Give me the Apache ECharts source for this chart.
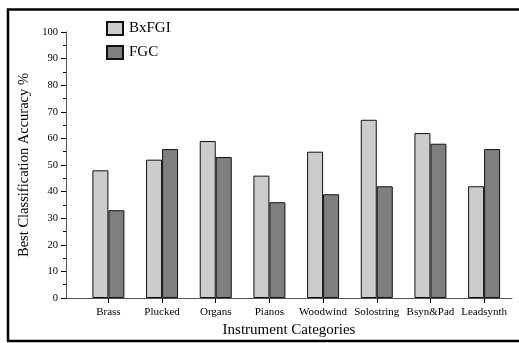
<!DOCTYPE html>
<html><head><meta charset="utf-8">
<script src="https://cdn.jsdelivr.net/npm/echarts@6/dist/echarts.min.js"></script>
<style>html,body{margin:0;padding:0;background:#fff}#c{width:519px;height:343px}</style>
</head><body><div id="c"></div>
<script>
var categories = ['Brass','Plucked','Organs','Pianos','Woodwind','Solostring','Bsyn&Pad','Leadsynth'];
var bxfgi = [48, 52, 59, 46, 55, 67, 62, 42];
var fgc = [33, 56, 53, 36, 39, 42, 58, 56];
var yTicks = [0,10,20,30,40,50,60,70,80,90,100];

var F = 'Liberation Serif, Times New Roman, serif';
function pts(arr){ return arr.map(function(v,i){ return [i, v]; }); }
var idx = categories.map(function(c,i){ return i; });

var chart = echarts.init(document.getElementById('c'));
chart.setOption({
  animation: false,
  backgroundColor: '#fff',
  graphic: [{type:'rect', shape:{x:8, y:9.5, width:520, height:331.5}, style:{fill:'none', stroke:'#000', lineWidth:2.5}, z:100}],
  grid: {left: 66, right: 7, top: 32, bottom: 45},
  legend: {
    orient: 'vertical', left: 101, top: 16, itemWidth: 16, itemHeight: 13, itemGap: 9,
    icon: 'rect',
    textStyle: {fontFamily: F, fontSize: 15, color: '#000', padding: [0,0,0,1]},
    data: [{name:'BxFGI'},{name:'FGC'}]
  },
  xAxis: {
    type: 'value', min: -0.79, max: 7.52,
    name: 'Instrument Categories', nameLocation: 'middle', nameGap: 22,
    nameTextStyle: {fontFamily: F, fontSize: 15, color: '#000'},
    splitLine: {show: false},
    axisLine: {show: true, onZero: false, lineStyle: {color: '#555', width: 1}},
    axisTick: {show: true, customValues: idx, length: 5, lineStyle: {color: '#000'}},
    axisLabel: {customValues: idx, margin: 9, fontFamily: F, fontSize: 11, color: '#000',
      formatter: function(v){ return categories[Math.round(v)]; }}
  },
  yAxis: {
    type: 'value', min: 0, max: 100, interval: 10,
    name: 'Best Classification Accuracy %', nameLocation: 'middle', nameGap: 31,
    nameTextStyle: {fontFamily: F, fontSize: 14.5, color: '#000'},
    splitLine: {show: false},
    axisLine: {show: true, onZero: false, lineStyle: {color: '#555', width: 1}},
    axisTick: {show: true, length: 5, lineStyle: {color: '#000'}},
    minorTick: {show: true, splitNumber: 2, length: 3, lineStyle: {color: '#000'}},
    axisLabel: {margin: 8, fontFamily: F, fontSize: 10.5, color: '#000',
      formatter: function(v){ return yTicks.indexOf(v) >= 0 ? String(v) : ''; }}
  },
  series: [
    {name: 'BxFGI', type: 'bar', data: pts(bxfgi), barWidth: 16, barGap: '0%',
     itemStyle: {color: '#cccccc', borderColor: '#111', borderWidth: 1}},
    {name: 'FGC', type: 'bar', data: pts(fgc), barWidth: 16, barGap: '0%',
     itemStyle: {color: '#7f7f7f', borderColor: '#111', borderWidth: 1}}
  ]
});
</script></body></html>
